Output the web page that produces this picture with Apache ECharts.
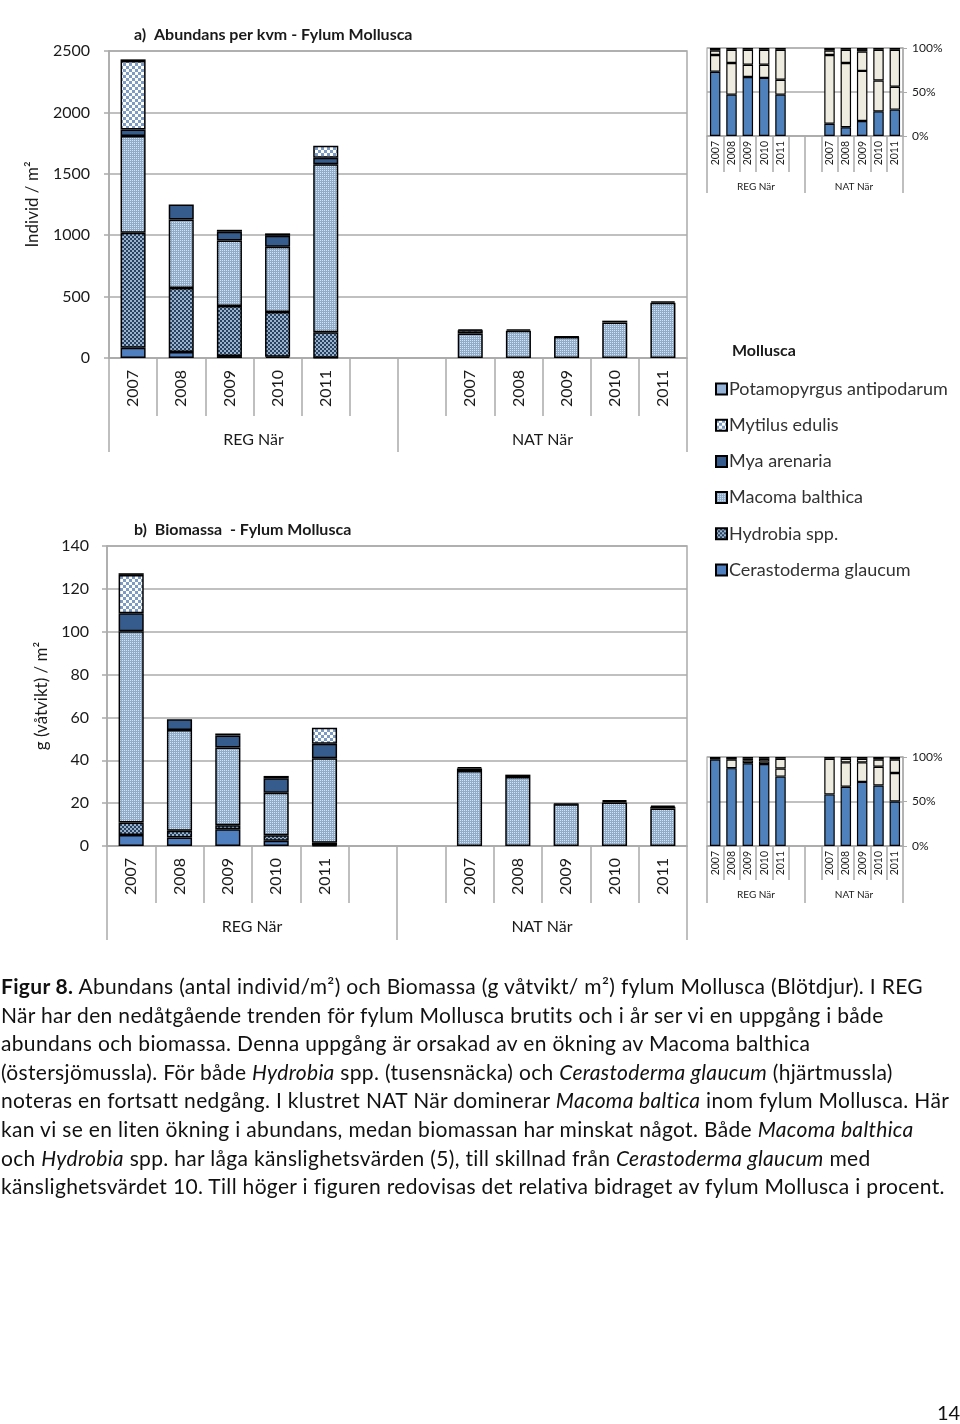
<!DOCTYPE html>
<html><head><meta charset="utf-8">
<script src="https://cdn.jsdelivr.net/npm/echarts@6/dist/echarts.min.js"></script>
<style>
html,body{margin:0;padding:0;background:#fff;}
#chart{position:absolute;left:0;top:0;width:960px;height:1424px;}
#caption{position:absolute;left:1px;top:972px;width:960px;font-family:Lato,"DejaVu Sans",sans-serif;font-size:21px;letter-spacing:0.33px;line-height:28.6px;color:#111;white-space:nowrap;}
#caption div{height:28.6px;}
#pageno{position:absolute;left:937px;top:1400px;font-family:Lato,sans-serif;font-size:20px;color:#111;}
</style></head><body>
<div id="chart"></div>
<div id="caption">
<div><b>Figur 8.</b> Abundans (antal individ/m²) och Biomassa (g våtvikt/ m²) fylum Mollusca (Blötdjur). I REG</div>
<div>När har den nedåtgående trenden för fylum Mollusca brutits och i år ser vi en uppgång i både</div>
<div>abundans och biomassa. Denna uppgång är orsakad av en ökning av Macoma balthica</div>
<div>(östersjömussla). För både <i>Hydrobia</i> spp. (tusensnäcka) och <i>Cerastoderma glaucum</i> (hjärtmussla)</div>
<div>noteras en fortsatt nedgång. I klustret NAT När dominerar <i>Macoma baltica</i> inom fylum Mollusca. Här</div>
<div>kan vi se en liten ökning i abundans, medan biomassan har minskat något. Både <i>Macoma balthica</i></div>
<div>och <i>Hydrobia</i> spp. har låga känslighetsvärden (5), till skillnad från <i>Cerastoderma glaucum</i> med</div>
<div>känslighetsvärdet 10. Till höger i figuren redovisas det relativa bidraget av fylum Mollusca i procent.</div>
</div>
<div id="pageno">14</div>
<script>
// ---------- data ----------
const years = ['2007', '2008', '2009', '2010', '2011'];
const groups = ['REG När', 'NAT När'];
const species = ['Cerastoderma glaucum', 'Hydrobia spp.', 'Macoma balthica', 'Mya arenaria', 'Mytilus edulis', 'Potamopyrgus antipodarum'];
const legendOrder = ['Potamopyrgus antipodarum', 'Mytilus edulis', 'Mya arenaria', 'Macoma balthica', 'Hydrobia spp.', 'Cerastoderma glaucum'];

// a) Abundance (individ / m2)
const cerastodermaAbundREG = [84, 49, 16, 11, 3];
const cerastodermaAbundNAT = [0, 0, 0, 0, 0];
const hydrobiaAbundREG = [935, 522, 408, 364, 206];
const hydrobiaAbundNAT = [0, 0, 0, 0, 0];
const macomaAbundREG = [788, 557, 533, 530, 1369];
const macomaAbundNAT = [200, 222, 172, 290, 450];
const myaAbundREG = [54, 122, 71, 90, 52];
const myaAbundNAT = [0, 0, 0, 0, 0];
const mytilusAbundREG = [557, 0, 0, 0, 98];
const mytilusAbundNAT = [25, 0, 0, 0, 0];
const potamoAbundREG = [14, 0, 16, 20, 0];
const potamoAbundNAT = [8, 12, 3, 14, 12];

// b) Biomass (g våtvikt / m2)
const cerastodermaBioREG = [5.1, 4.0, 7.8, 2.5, 0.3];
const cerastodermaBioNAT = [0, 0, 0, 0, 0];
const hydrobiaBioREG = [5.9, 3.1, 1.9, 2.5, 1.2];
const hydrobiaBioNAT = [0, 0, 0, 0, 0];
const macomaBioREG = [89.2, 47.0, 36.3, 19.9, 39.5];
const macomaBioNAT = [35.0, 32.2, 19.5, 20.3, 17.5];
const myaBioREG = [8.4, 5.0, 5.6, 6.7, 6.7];
const myaBioNAT = [0, 0, 0, 0, 0];
const mytilusBioREG = [17.9, 0, 0, 0, 7.5];
const mytilusBioNAT = [1.2, 0, 0, 0.6, 0.8];
const potamoBioREG = [0.8, 0, 0.9, 1.1, 0];
const potamoBioNAT = [0.6, 1.1, 0.2, 0.5, 0.6];

// relative contribution (%) – abundance
const pctAbundMolluscaREG = [73, 47, 67, 66, 47];
const pctAbundMolluscaNAT = [14, 10, 17, 28, 30];
const pctAbundOtherAREG = [19, 36, 14, 15, 17];
const pctAbundOtherANAT = [78, 73, 57, 35, 26];
const pctAbundOtherBREG = [5, 15, 17, 17, 34];
const pctAbundOtherBNAT = [5, 15, 22, 35, 42];
const pctAbundOtherCREG = [3, 2, 2, 2, 2];
const pctAbundOtherCNAT = [3, 2, 4, 2, 2];
// relative contribution (%) – biomass
const pctBioMolluscaREG = [97, 87.5, 93, 92, 78];
const pctBioMolluscaNAT = [58, 66.5, 72, 68, 50];
const pctBioOtherAREG = [0, 9.5, 3, 3, 9];
const pctBioOtherANAT = [40, 27.5, 22, 21, 32];
const pctBioOtherBREG = [0, 0, 2, 3, 11];
const pctBioOtherBNAT = [0, 4, 4, 8, 15];
const pctBioOtherCREG = [3, 3, 2, 2, 2];
const pctBioOtherCNAT = [2, 2, 2, 3, 3];

// ---------- styling ----------
const FONT = 'Lato, "DejaVu Sans", sans-serif';
const TXT = '#1a1a1a';
const GRID = '#ABABAB';

function checker(cell, c1, c2) {
  const c = document.createElement('canvas');
  c.width = c.height = cell * 2;
  const g = c.getContext('2d');
  g.fillStyle = c1; g.fillRect(0, 0, cell * 2, cell * 2);
  g.fillStyle = c2; g.fillRect(0, 0, cell, cell); g.fillRect(cell, cell, cell, cell);
  return { image: c, repeat: 'repeat' };
}
function dots(bg, dot) {
  const c = document.createElement('canvas');
  c.width = c.height = 2;
  const g = c.getContext('2d');
  g.fillStyle = bg; g.fillRect(0, 0, 2, 2);
  g.fillStyle = dot; g.fillRect(0, 0, 1, 1);
  return { image: c, repeat: 'repeat' };
}
const speciesColor = {
  'Cerastoderma glaucum': '#4F7FBF',
  'Hydrobia spp.': checker(2, '#9AB2CB', '#28425F'),
  'Macoma balthica': dots('#8FADCB', '#D8E3EE'),
  'Mya arenaria': '#355C8C',
  'Mytilus edulis': checker(3, '#FFFFFF', '#7C9CC4'),
  'Potamopyrgus antipodarum': '#95B3D7'
};

const slots = (reg, nat) => [...reg, null, null, ...nat].map(v => (v ? v : null));
const yearSlots = [...years, '', '', ...years];

const abund = {
  'Cerastoderma glaucum': [cerastodermaAbundREG, cerastodermaAbundNAT],
  'Hydrobia spp.': [hydrobiaAbundREG, hydrobiaAbundNAT],
  'Macoma balthica': [macomaAbundREG, macomaAbundNAT],
  'Mya arenaria': [myaAbundREG, myaAbundNAT],
  'Mytilus edulis': [mytilusAbundREG, mytilusAbundNAT],
  'Potamopyrgus antipodarum': [potamoAbundREG, potamoAbundNAT]
};
const bio = {
  'Cerastoderma glaucum': [cerastodermaBioREG, cerastodermaBioNAT],
  'Hydrobia spp.': [hydrobiaBioREG, hydrobiaBioNAT],
  'Macoma balthica': [macomaBioREG, macomaBioNAT],
  'Mya arenaria': [myaBioREG, myaBioNAT],
  'Mytilus edulis': [mytilusBioREG, mytilusBioNAT],
  'Potamopyrgus antipodarum': [potamoBioREG, potamoBioNAT]
};
const pctAbund = [
  ['Mollusca', '#4F81BD', pctAbundMolluscaREG, pctAbundMolluscaNAT],
  ['Övriga A', '#EEECE1', pctAbundOtherAREG, pctAbundOtherANAT],
  ['Övriga B', '#EEECE1', pctAbundOtherBREG, pctAbundOtherBNAT],
  ['Övriga C', '#1A1A1A', pctAbundOtherCREG, pctAbundOtherCNAT]
];
const pctBio = [
  ['Mollusca', '#4F81BD', pctBioMolluscaREG, pctBioMolluscaNAT],
  ['Övriga A', '#EEECE1', pctBioOtherAREG, pctBioOtherANAT],
  ['Övriga B', '#EEECE1', pctBioOtherBREG, pctBioOtherBNAT],
  ['Övriga C', '#1A1A1A', pctBioOtherCREG, pctBioOtherCNAT]
];

const series = [];
species.forEach(sp => {
  series.push({
    name: sp, type: 'bar', stack: 'abund', xAxisIndex: 0, yAxisIndex: 0, barWidth: '52%',
    itemStyle: { color: speciesColor[sp], borderColor: '#000', borderWidth: 1.5 },
    data: slots(abund[sp][0], abund[sp][1])
  });
  series.push({
    name: sp, type: 'bar', stack: 'bio', xAxisIndex: 2, yAxisIndex: 1, barWidth: '52%',
    itemStyle: { color: speciesColor[sp], borderColor: '#000', borderWidth: 1.5 },
    data: slots(bio[sp][0], bio[sp][1])
  });
});
pctAbund.forEach(([n, c, r, a]) => series.push({
  name: n, type: 'bar', stack: 'pa', xAxisIndex: 4, yAxisIndex: 2, barWidth: '64%',
  itemStyle: { color: c, borderColor: '#000', borderWidth: 1.2 }, data: slots(r, a)
}));
pctBio.forEach(([n, c, r, a]) => series.push({
  name: n, type: 'bar', stack: 'pb', xAxisIndex: 6, yAxisIndex: 3, barWidth: '64%',
  itemStyle: { color: c, borderColor: '#000', borderWidth: 1.2 }, data: slots(r, a)
}));

function yearAxis(gi, fontSize, tickLen, margin) {
  return {
    type: 'category', gridIndex: gi, position: 'bottom', data: yearSlots, boundaryGap: true,
    axisLine: { show: true, lineStyle: { color: GRID, width: 1.5 } },
    axisTick: { show: true, interval: 0, length: tickLen, lineStyle: { color: GRID, width: 1.5 } },
    axisLabel: { interval: 0, rotate: 90, fontSize, margin, color: TXT, fontFamily: FONT },
    splitLine: { show: false }
  };
}
function groupAxis(gi, fontSize, tickLen, margin) {
  return {
    type: 'category', gridIndex: gi, position: 'bottom', offset: 0, data: groups, boundaryGap: true,
    axisLine: { show: false },
    axisTick: { show: true, interval: 0, length: tickLen, lineStyle: { color: GRID, width: 1.5 } },
    axisLabel: { interval: 0, fontSize, margin, color: TXT, fontFamily: FONT },
    splitLine: { show: false }
  };
}
function valAxis(gi, max, interval, opts) {
  return Object.assign({
    type: 'value', gridIndex: gi, min: 0, max, interval,
    axisLine: { show: true, lineStyle: { color: GRID, width: 1.5 } },
    axisTick: { show: true, length: 5, lineStyle: { color: GRID, width: 1.5 } },
    splitLine: { show: true, lineStyle: { color: GRID, width: 1.5 } },
    axisLabel: { fontSize: 16, margin: 19, color: TXT, fontFamily: FONT, formatter: v => String(v) }
  }, opts);
}

const option = {
  animation: false,
  backgroundColor: '#fff',
  textStyle: { fontFamily: FONT },
  title: [
    { text: 'a)  Abundans per kvm - Fylum Mollusca', left: 129, top: 22, textStyle: { fontSize: 16, fontWeight: 'bold', color: TXT, fontFamily: FONT } },
    { text: 'b)  Biomassa  - Fylum Mollusca', left: 129, top: 517, textStyle: { fontSize: 16, fontWeight: 'bold', color: TXT, fontFamily: FONT } },
    { text: 'Mollusca', left: 727, top: 338, textStyle: { fontSize: 16, fontWeight: 'bold', color: TXT, fontFamily: FONT } }
  ],
  legend: {
    orient: 'vertical', left: 710, top: 375, itemWidth: 11, itemHeight: 11, itemGap: 18.2,
    selectedMode: false, icon: 'rect', data: legendOrder,
    textStyle: { fontSize: 18, color: '#333', fontFamily: FONT, lineHeight: 17, padding: [0, 0, 0, -3] }
  },
  grid: [
    { left: 109, top: 51, width: 578, height: 307, show: true, borderColor: GRID, borderWidth: 1.5 },
    { left: 107, top: 546, width: 580, height: 300, show: true, borderColor: GRID, borderWidth: 1.5 },
    { left: 707, top: 48, width: 196, height: 88, show: true, borderColor: GRID, borderWidth: 1.2 },
    { left: 707, top: 757, width: 196, height: 89, show: true, borderColor: GRID, borderWidth: 1.2 }
  ],
  xAxis: [
    yearAxis(0, 16, 58, 12), groupAxis(0, 16, 94, 74),
    yearAxis(1, 16, 57, 12), groupAxis(1, 16, 94, 73),
    yearAxis(2, 10.5, 36, 5), groupAxis(2, 10, 57, 46),
    yearAxis(3, 10.5, 34, 5), groupAxis(3, 10, 57, 44)
  ],
  yAxis: [
    valAxis(0, 2500, 500, { name: 'Individ / m²', nameLocation: 'middle', nameGap: 68, nameRotate: 90,
      nameTextStyle: { fontSize: 17, color: TXT, fontFamily: FONT } }),
    valAxis(1, 140, 20, { name: 'g (våtvikt) / m²', nameLocation: 'middle', nameGap: 57, nameRotate: 90,
      axisLabel: { fontSize: 16, margin: 18, color: TXT, fontFamily: FONT, formatter: v => String(v) },
      nameTextStyle: { fontSize: 17, color: TXT, fontFamily: FONT } }),
    valAxis(2, 100, 50, { position: 'right', axisTick: { show: true, length: 4, lineStyle: { color: GRID } },
      axisLabel: { fontSize: 12, margin: 9, color: TXT, fontFamily: FONT, formatter: '{value}%' } }),
    valAxis(3, 100, 50, { position: 'right', axisTick: { show: true, length: 4, lineStyle: { color: GRID } },
      axisLabel: { fontSize: 12, margin: 9, color: TXT, fontFamily: FONT, formatter: '{value}%' } })
  ],
  series
};

const chart = echarts.init(document.getElementById('chart'), null, { renderer: 'canvas', width: 960, height: 1424 });
chart.setOption(option);
</script>
</body></html>
